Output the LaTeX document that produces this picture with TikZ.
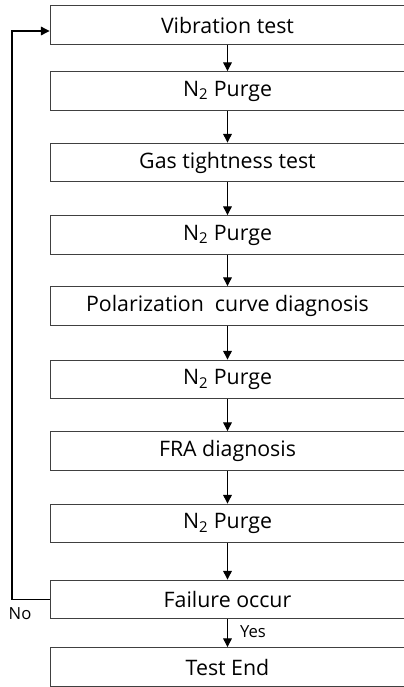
\documentclass[tikz,border=0pt]{standalone}
\usepackage{fontspec}
\setmainfont{Open Sans}
\usetikzlibrary{arrows.meta}
\tikzset{
  stepbox/.style = {draw=black!75, line width=0.9pt, rectangle, align=center,
    minimum width=266pt, minimum height=29pt, inner sep=0pt,
    font=\fontsize{16}{18}\selectfont},% one test step
  flow/.style = {draw=black, line width=0.8pt,
    -{Triangle[width=6.5pt,length=6.5pt]}},% arrow between steps
  tag/.style = {font=\fontsize{12.5}{14}\selectfont, inner sep=1pt}
}

\begin{document}
\begin{tikzpicture}[x=0.75pt, y=-0.75pt]
  \useasboundingbox (0,0) rectangle (404,687);
  \clip (0,0) rectangle (404,687);
  \node [stepbox] (vib)   at (227.5,25)    {Vibration test};
  \node [stepbox] (purA)  at (227.5,91)    {N\textsubscript{2} Purge};
  \node [stepbox] (gas)   at (227.5,162.5) {Gas tightness test};
  \node [stepbox] (purB)  at (227.5,235)   {N\textsubscript{2} Purge};
  \node [stepbox] (pol)   at (227.5,306)   {Polarization~ curve diagnosis};
  \node [stepbox] (purC)  at (227.5,379.5) {N\textsubscript{2} Purge};
  \node [stepbox] (fra)   at (227.5,451)   {FRA diagnosis};
  \node [stepbox] (purD)  at (227.5,523.5) {N\textsubscript{2} Purge};
  \node [stepbox] (fail)  at (227.5,599.5) {Failure occur};
  \node [stepbox] (fin)   at (227.5,667)   {Test End};
  % straight flow
  \draw [flow] (vib)  -- (purA);
  \draw [flow] (purA) -- (gas);
  \draw [flow] (gas)  -- (purB);
  \draw [flow] (purB) -- (pol);
  \draw [flow] (pol)  -- (purC);
  \draw [flow] (purC) -- (fra);
  \draw [flow] (fra)  -- (purD);
  \draw [flow] (purD) -- (fail);
  \draw [flow] (fail) -- node [tag, anchor=west, xshift=8pt, yshift=1pt] (yes) {Yes} (fin);
  % loop back
  \coordinate (loopbot) at (12,599.5);
  \coordinate (looptop) at (12,31);
  \draw [flow] (fail.west) -- (loopbot) -- (looptop) -- (looptop -| vib.west);
  \node [tag] (no) at (20,614) {No};
\end{tikzpicture}
\end{document}
